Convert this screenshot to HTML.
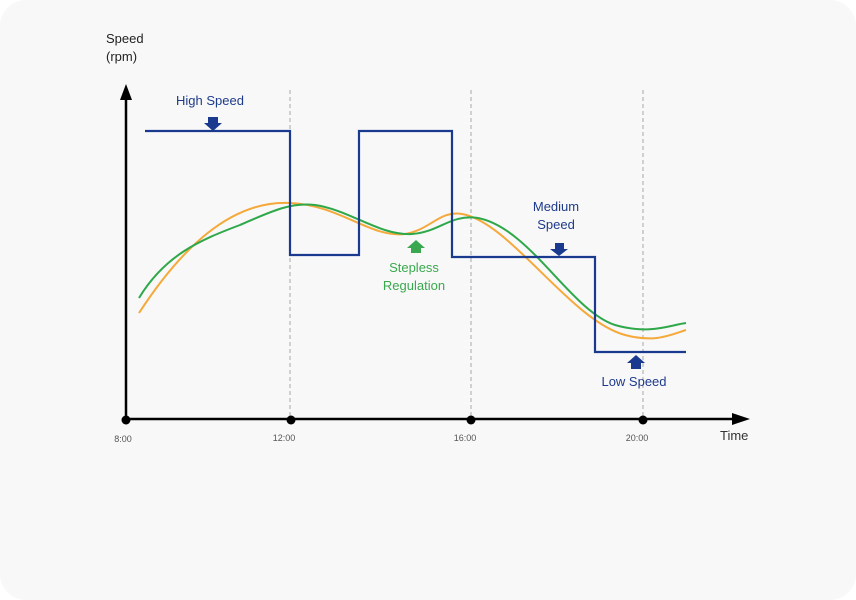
<!DOCTYPE html>
<html><head><meta charset="utf-8"><style>
html,body{margin:0;padding:0;background:#fff;}
body{width:856px;height:600px;overflow:hidden;}
svg{display:block;font-family:"Liberation Sans",sans-serif;}
</style></head><body>
<svg width="856" height="600" viewBox="0 0 856 600">
<rect x="0" y="0" width="856" height="600" rx="26" fill="#f8f8f8"/>
<text x="106" y="43" font-size="13" fill="#222">Speed</text>
<text x="106" y="61" font-size="13" fill="#222">(rpm)</text>
<g stroke="#bbb" stroke-width="1.3" stroke-dasharray="4,3">
<line x1="290" y1="90" x2="290" y2="420"/>
<line x1="471" y1="90" x2="471" y2="420"/>
<line x1="643" y1="90" x2="643" y2="420"/>
</g>
<line x1="126" y1="420" x2="126" y2="96" stroke="#000" stroke-width="2.5"/>
<polygon points="126,84 120,100 132,100" fill="#000"/>
<line x1="126" y1="419" x2="738" y2="419" stroke="#000" stroke-width="2.5"/>
<polygon points="750,419 732,413 732,425" fill="#000"/>
<g fill="#000"><circle cx="126" cy="420" r="4.5"/><circle cx="291" cy="420" r="4.5"/><circle cx="471" cy="420" r="4.5"/><circle cx="643" cy="420" r="4.5"/></g>
<g font-size="9" fill="#555" text-anchor="middle">
<text x="123" y="442">8:00</text><text x="284" y="441">12:00</text><text x="465" y="441">16:00</text><text x="637" y="441">20:00</text>
</g>
<text x="720" y="440" font-size="13" fill="#333">Time</text>
<path d="M139,313 C180,250 230,200 290,203 C340,205 370,238 405,234 C430,230 440,210 462,214 C510,222 570,320 625,335 C655,343 670,335 686,330" fill="none" stroke="#f5a93a" stroke-width="2"/>
<path d="M139,298 C165,255 200,240 240,225 C270,212 290,202 315,205 C350,210 380,236 412,234 C440,232 450,214 478,218 C530,228 570,310 615,325 C650,335 670,325 686,323" fill="none" stroke="#2fa84a" stroke-width="2"/>
<path d="M145,131 H290 V255 H359 V131 H452 V257 H595 V352 H686" fill="none" stroke="#1a3a8f" stroke-width="2.2"/>
<g fill="#1a3a8f">
<polygon points="208,117 218,117 218,123 222,123 213,131 204,123 208,123"/>
<polygon points="555,243 564,243 564,249 568,249 559,256 550,249 555,249"/>
<polygon points="636,355 645,363 641,363 641,369 631,369 631,363 627,363"/>
</g>
<polygon points="416,240 425,248 421,248 421,253 411,253 411,248 407,248" fill="#3aa84f"/>
<g font-size="13" fill="#1e3a8a" text-anchor="middle">
<text x="210" y="105">High Speed</text>
<text x="556" y="211">Medium</text><text x="556" y="229">Speed</text>
<text x="634" y="386">Low Speed</text>
</g>
<g font-size="13" fill="#3aa84f" text-anchor="middle">
<text x="414" y="272">Stepless</text><text x="414" y="290">Regulation</text>
</g>
</svg>
</body></html>
